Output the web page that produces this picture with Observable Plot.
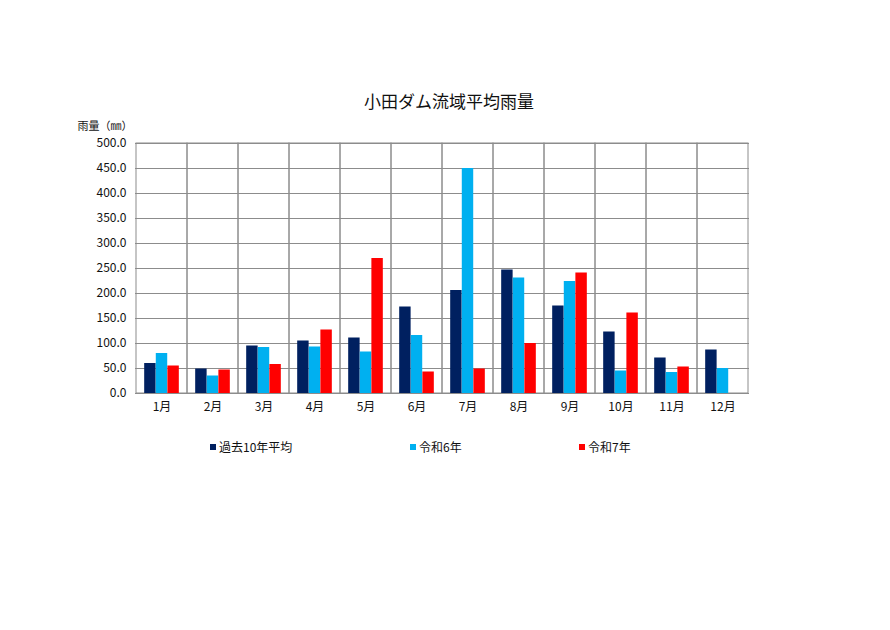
<!DOCTYPE html>
<html>
<head>
<meta charset="utf-8">
<script src="https://cdn.jsdelivr.net/npm/d3@7"></script>
<script src="https://cdn.jsdelivr.net/npm/@observablehq/plot@0.6"></script>
<style>
  html, body { margin: 0; padding: 0; background: #fff; }
  body { width: 890px; height: 630px; font-family: "Noto Sans CJK JP", sans-serif; color: #111; }
  #title { height: 115px; box-sizing: border-box; padding-top: 91px; text-align: center; font-size: 17px; line-height: 20px; padding-left: 8px; }
  #legend { position: relative; height: 40px; margin-top: 14px; font-size: 12px; }
  #legend span.item { position: absolute; top: 0; white-space: nowrap; line-height: 16px; }
  #legend span.sw { display: inline-block; width: 6px; height: 6px; margin-right: 3px; vertical-align: 2px; }
</style>
</head>
<body>
<div id="title">小田ダム流域平均雨量</div>
<div id="chart"></div>
<div id="legend"></div>
<script>
const months = ["1月","2月","3月","4月","5月","6月","7月","8月","9月","10月","11月","12月"];
const seriesNames = ["過去10年平均", "令和6年", "令和7年"];
const avg10 = [60, 49, 95, 105, 111, 173, 206, 247, 175, 123, 71, 87];
const r6 = [80, 35, 92, 93, 83, 116, 450, 231, 224, 45, 42, 50];
const r7 = [55, 47, 58, 127, 270, 43, 49, 100, 241, 161, 53, null];
const yTicks = [0, 50, 100, 150, 200, 250, 300, 350, 400, 450, 500];
const colors = ["#002060", "#00B0F0", "#FF0000"];
const yLabel = "雨量（㎜）";

const seriesValues = [avg10, r6, r7];
const tables = seriesValues.map(vals => months.map((m, i) => ({month: m, value: vals[i]})).filter(d => d.value != null));

const barW = 11.6;
const bandW = (890 - 135 - 141) / 12;
const inset = (bandW - barW) / 2;

const plot = Plot.plot({
  width: 890,
  height: 310,
  marginLeft: 135,
  marginRight: 141,
  marginTop: 28,
  marginBottom: 32,
  style: {fontFamily: "'Noto Sans CJK JP', sans-serif", fontSize: "12px", color: "#111", background: "#fff"},
  x: {domain: months, padding: 0, label: null},
  y: {domain: [0, 500], label: null},
  marks: [
    Plot.ruleY(yTicks, {y: d => d, stroke: "#8c8c8c", strokeWidth: 1}),
    Plot.barY(months, {x: d => d, y1: 0, y2: 500, fill: "none", stroke: "#8c8c8c", strokeWidth: 1}),
    ...tables.map((t, k) => Plot.barY(t, {
      x: "month", y: "value", fill: colors[k],
      insetLeft: inset, insetRight: inset, dx: (k - 1) * barW
    })),
    Plot.axisY({ticks: yTicks, tickFormat: d3.format(".1f"), tickSize: 0, tickPadding: 9, label: null}),
    Plot.axisX({tickSize: 0, tickPadding: 9, label: null}),
    Plot.text([yLabel], {text: d => d, frameAnchor: "top-left", dx: -58, dy: -21, textAnchor: "start", fontSize: 11})
  ]
});
document.getElementById("chart").appendChild(plot);

const legendX = [210, 410, 579];
const legend = document.getElementById("legend");
seriesNames.forEach((name, k) => {
  const item = document.createElement("span");
  item.className = "item";
  item.style.left = legendX[k] + "px";
  const sw = document.createElement("span");
  sw.className = "sw";
  sw.style.background = colors[k];
  item.appendChild(sw);
  item.appendChild(document.createTextNode(name));
  legend.appendChild(item);
});
</script>
</body>
</html>
